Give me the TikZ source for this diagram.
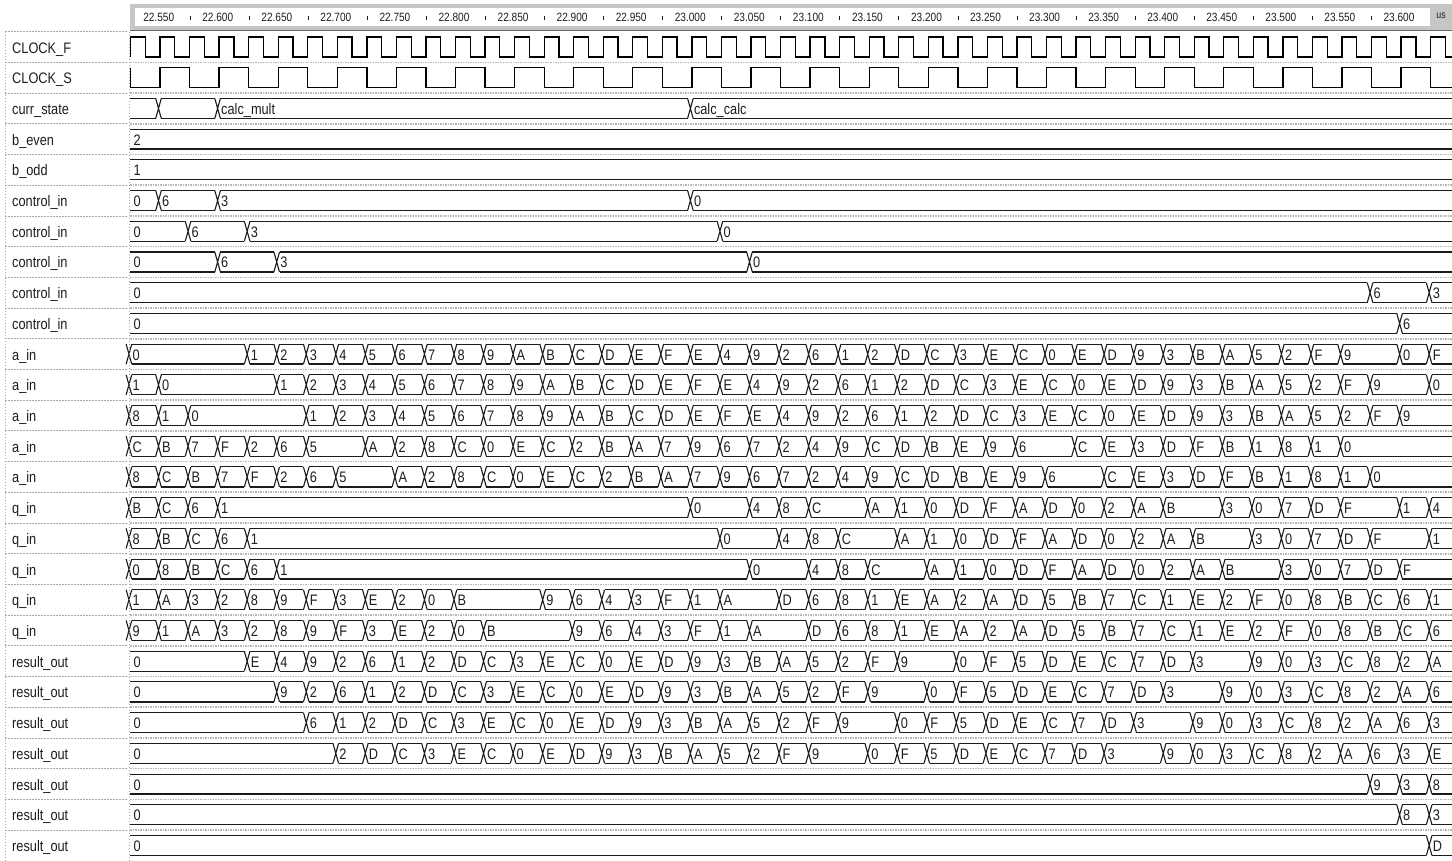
\documentclass[tikz,border=0pt]{standalone}
\usepackage{fontspec}
\newfontfamily\wf[FakeStretch=0.84]{Liberation Sans}
\newcommand\valfont{\wf\fontsize{15.2}{15.2}\selectfont}
\newcommand\tickfont{\wf\fontsize{12}{12}\selectfont}
\definecolor{wline}{HTML}{1C1C1C}
\definecolor{hdrgray}{HTML}{C6C6C6}
\definecolor{sepgray}{HTML}{B8B8B8}
\definecolor{panelsep}{HTML}{A8A8A8}
\definecolor{txt}{HTML}{1E1E1E}

\newcommand\rowc[1]{\pgfmathsetmacro\yc{47+30.71*(#1)}}
\newcommand\busbase[1]{%
  \rowc{#1}%
  \draw[busline] (130,\yc-10) -- (1452,\yc-10);%
  \draw[busline,line width=1.3pt] (130,\yc+10) -- (1452,\yc+10);%
}
\newcommand\startlab[2]{%
  \rowc{#1}%
  \node[val] (s#1) at (133.5,\yc+6) {#2};%
}
\newcommand\trans[4]{%
  \rowc{#1}%
  \foreach \n/\vv in #4 {%
    \pgfmathtruncatemacro\m{\n+(#2)}%
    \ifnum\n<#3\relax\else\ifnum\m<44\relax
      \pgfmathsetmacro\xx{158.5+29.55*\m}%
      \fill[white] (\xx-2.8,\yc-11) rectangle (\xx+2.8,\yc+11);
      \draw[busline] (\xx-2.8,\yc-10) -- (\xx+2.8,\yc+10) (\xx-2.8,\yc+10) -- (\xx+2.8,\yc-10);
      \node[val] (v#1x\m) at (\xx+3.4,\yc+6) {\vv};
    \fi\fi
  }%
}

\def\listA{-1/0,3/1,4/2,5/3,6/4,7/5,8/6,9/7,10/8,11/9,12/A,13/B,14/C,15/D,16/E,17/F,18/E,19/4,20/9,21/2,22/6,23/1,24/2,25/D,26/C,27/3,28/E,29/C,30/0,31/E,32/D,33/9,34/3,35/B,36/A,37/5,38/2,39/F,40/9,42/0,43/F}
\def\listB{-1/C,0/B,1/7,2/F,3/2,4/6,5/5,7/A,8/2,9/8,10/C,11/0,12/E,13/C,14/2,15/B,16/A,17/7,18/9,19/6,20/7,21/2,22/4,23/9,24/C,25/D,26/B,27/E,28/9,29/6,31/C,32/E,33/3,34/D,35/F,36/B,37/1,38/8,39/1,40/0}
\def\listQ{-1/B,0/C,1/6,2/1,18/0,20/4,21/8,22/C,24/A,25/1,26/0,27/D,28/F,29/A,30/D,31/0,32/2,33/A,34/B,36/3,37/0,38/7,39/D,40/F,42/1,43/4}
\def\listR{-1/1,0/A,1/3,2/2,3/8,4/9,5/F,6/3,7/E,8/2,9/0,10/B,13/9,14/6,15/4,16/3,17/F,18/1,19/A,21/D,22/6,23/8,24/1,25/E,26/A,27/2,28/A,29/D,30/5,31/B,32/7,33/C,34/1,35/E,36/2,37/F,38/0,39/8,40/B,41/C,42/6,43/1}
\def\listS{3/E,4/4,5/9,6/2,7/6,8/1,9/2,10/D,11/C,12/3,13/E,14/C,15/0,16/E,17/D,18/9,19/3,20/B,21/A,22/5,23/2,24/F,25/9,27/0,28/F,29/5,30/D,31/E,32/C,33/7,34/D,35/3,37/9,38/0,39/3,40/C,41/8,42/2,43/A}

\begin{document}
\begin{tikzpicture}[x=1pt,y=-1pt,
  busline/.style={draw=wline,line width=1.1pt},
  clk/.style={draw=black,line width=1.3pt,line join=miter},
  val/.style={font=\valfont,inner sep=0pt,anchor=base west,text=txt},
  lab/.style={font=\valfont,inner sep=0pt,anchor=base west,text=txt},
  tick/.style={font=\tickfont,inner sep=0pt,anchor=base,text=txt},
  sepw/.style={draw=sepgray,line width=1.6pt,dash pattern=on 1.5pt off 1pt},
  sepl/.style={draw=panelsep,line width=0.8pt,dash pattern=on 1.5pt off 1.5pt}]
\useasboundingbox (0,0) rectangle (1452,860);
\fill[white] (0,0) rectangle (1452,860);

% header
\fill[hdrgray] (130,4) rectangle (1452,29.5);
\fill[white] (135,7.5) rectangle (1430,25.5);
\draw[draw=gray!80!black,line width=1pt] (130,30) -- (1452,30);
\foreach \lab [count=\k from 0] in {22.550,22.600,22.650,22.700,22.750,22.800,22.850,22.900,22.950,23.000,23.050,23.100,23.150,23.200,23.250,23.300,23.350,23.400,23.450,23.500,23.550,23.600}{
  \node[tick] (t\k) at ({158.7+59.06*\k},21) {\lab};
}
\foreach \k in {0,...,20}{
  \draw[draw=txt,line width=0.9pt] ({158.7+59.06*\k+31.5},15.5) -- ++(0,4.5);
}
\node[font=\wf\fontsize{10.5}{10.5}\selectfont,inner sep=0pt,anchor=base,text=txt] (us) at (1441,18.5) {us};

% separators
\foreach \r in {-1,...,25}{
  \pgfmathsetmacro\ys{47+30.71*\r+15.35}
  \draw[sepl] (5,\ys) -- (128,\ys);
  \ifnum\r>-1 \draw[sepw] (130,\ys) -- (1452,\ys); \fi
}

% signal names
\foreach \name [count=\r from 0] in {CLOCK\_F,CLOCK\_S,curr\_state,b\_even,b\_odd,control\_in,control\_in,control\_in,control\_in,control\_in,a\_in,a\_in,a\_in,a\_in,a\_in,q\_in,q\_in,q\_in,q\_in,q\_in,result\_out,result\_out,result\_out,result\_out,result\_out,result\_out,result\_out}{
  \node[lab] (l\r) at (12,{47+30.71*\r+6}) {\name};
}

% clocks
\begin{scope}
\clip (130,30) rectangle (1452,860);
\draw[clk] (130.45,57) \foreach \j in {1,...,45} { -- ++(0,-20) -- ++(14.775,0) -- ++(0,20) -- ++(14.775,0) };
\draw[clk] (130.45,67.71) \foreach \j in {1,...,23} { -- ++(0,20) -- ++(29.55,0) -- ++(0,-20) -- ++(29.55,0) };
\end{scope}

% buses
\busbase{2}\trans{2}{0}{-5}{{0/{},2/calc\_mult,18/calc\_calc}}
\busbase{3}\startlab{3}{2}
\busbase{4}\startlab{4}{1}
\busbase{5}\startlab{5}{0}\trans{5}{0}{-5}{{0/6,2/3,18/0}}
\busbase{6}\startlab{6}{0}\trans{6}{0}{-5}{{1/6,3/3,19/0}}
\busbase{7}\startlab{7}{0}\trans{7}{0}{-5}{{2/6,4/3,20/0}}
\busbase{8}\startlab{8}{0}\trans{8}{0}{-5}{{41/6,43/3}}
\busbase{9}\startlab{9}{0}\trans{9}{0}{-5}{{42/6}}

\busbase{10}\trans{10}{0}{-5}{\listA}
\busbase{11}\trans{11}{0}{-5}{{-1/1}}\trans{11}{1}{-5}{\listA}
\busbase{12}\trans{12}{0}{-5}{{-1/8,0/1}}\trans{12}{2}{-5}{\listA}
\busbase{13}\trans{13}{0}{-5}{\listB}
\busbase{14}\trans{14}{0}{-5}{{-1/8}}\trans{14}{1}{-5}{\listB}

\busbase{15}\trans{15}{0}{-5}{\listQ}
\busbase{16}\trans{16}{0}{-5}{{-1/8}}\trans{16}{1}{-5}{\listQ}
\busbase{17}\trans{17}{0}{-5}{{-1/0,0/8}}\trans{17}{2}{-5}{\listQ}
\busbase{18}\trans{18}{0}{-5}{\listR}
\busbase{19}\trans{19}{0}{-5}{{-1/9}}\trans{19}{1}{-5}{\listR}

\busbase{20}\startlab{20}{0}\trans{20}{0}{-5}{\listS}
\busbase{21}\startlab{21}{0}\trans{21}{-1}{5}{\listS}\trans{21}{0}{-5}{{43/6}}
\busbase{22}\startlab{22}{0}\trans{22}{-2}{7}{\listS}\trans{22}{0}{-5}{{42/6,43/3}}
\busbase{23}\startlab{23}{0}\trans{23}{-3}{9}{\listS}\trans{23}{0}{-5}{{41/6,42/3,43/E}}
\busbase{24}\startlab{24}{0}\trans{24}{0}{-5}{{41/9,42/3,43/8}}
\busbase{25}\startlab{25}{0}\trans{25}{0}{-5}{{42/8,43/3}}
\busbase{26}\startlab{26}{0}\trans{26}{0}{-5}{{43/D}}

% panel borders
\draw[sepl] (5,31.65) -- (5,860);
\draw[sepl] (129,31.65) -- (129,860);
\end{tikzpicture}
\end{document}
